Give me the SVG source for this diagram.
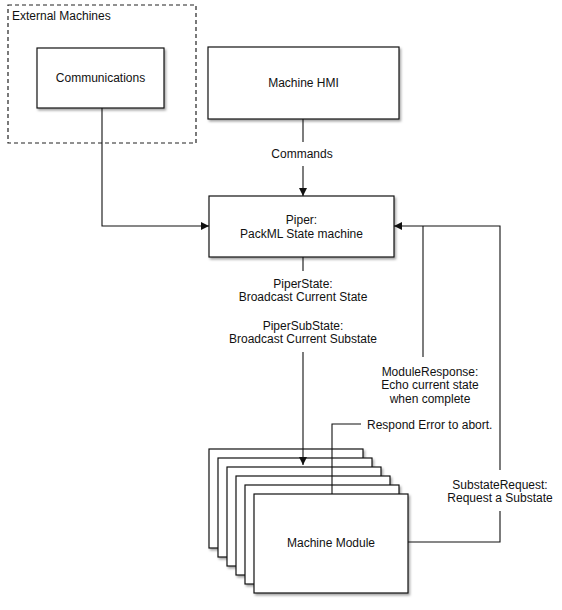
<svg xmlns="http://www.w3.org/2000/svg" width="562" height="610" viewBox="0 0 562 610">
<style>
  text { font-family: "Liberation Sans", Arial, sans-serif; font-size: 12px; fill: #111; }
  .c { text-anchor: middle; }
  .box { fill: #fff; stroke: #111; stroke-width: 1.2; filter: url(#sh); }
  .ln { fill: none; stroke: #111; stroke-width: 1.1; }
</style>
<defs>
  <filter id="sh" x="-10%" y="-10%" width="125%" height="130%">
    <feDropShadow dx="1.5" dy="2" stdDeviation="1" flood-color="#000" flood-opacity="0.35"/>
  </filter>
  <marker id="ah" viewBox="0 0 10 10" refX="10" refY="5" markerWidth="9" markerHeight="8" markerUnits="userSpaceOnUse" orient="auto">
    <path d="M0,0 L10,5 L0,10 z" fill="#111"/>
  </marker>
</defs>
<rect width="562" height="610" fill="#fff"/>

<g id="external-machines">
  <rect x="8" y="5" width="188" height="138" fill="none" stroke="#222" stroke-width="1.2" stroke-dasharray="4,3"/>
  <text x="12" y="20">External Machines</text>
</g>

<g id="communications">
  <rect class="box" x="37" y="48" width="127" height="60"/>
  <text class="c" x="100.5" y="82">Communications</text>
</g>

<g id="machine-hmi">
  <rect class="box" x="208" y="47" width="191" height="72"/>
  <text class="c" x="303.5" y="87">Machine HMI</text>
</g>

<g id="piper">
  <rect class="box" x="209" y="196" width="185" height="61"/>
  <text class="c" x="301.5" y="224">Piper:</text>
  <text class="c" x="301.5" y="238">PackML State machine</text>
</g>

<g id="machine-module">
  <rect class="box" x="209" y="449" width="154" height="99"/>
  <rect class="box" x="218" y="458" width="154" height="99"/>
  <rect class="box" x="227" y="467" width="154" height="99"/>
  <rect class="box" x="236" y="476" width="154" height="99"/>
  <rect class="box" x="245" y="485" width="154" height="99"/>
  <rect class="box" x="254" y="494" width="154" height="99"/>
  <text class="c" x="331" y="547">Machine Module</text>
</g>

<g id="connectors">
  <path class="ln" d="M102,108 V226 H209" marker-end="url(#ah)"/>
  <path class="ln" d="M303,119 V142"/>
  <text class="c" x="302" y="158">Commands</text>
  <path class="ln" d="M303,166 V196" marker-end="url(#ah)"/>

  <path class="ln" d="M303,257 V271"/>
  <text class="c" x="303" y="288">PiperState:</text>
  <text class="c" x="303" y="301">Broadcast Current State</text>
  <text class="c" x="303" y="330">PiperSubState:</text>
  <text class="c" x="303" y="343">Broadcast Current Substate</text>
  <path class="ln" d="M303,352 V465" marker-end="url(#ah)"/>

  <path class="ln" d="M423,357 V226"/>
  <text class="c" x="430" y="376">ModuleResponse:</text>
  <text class="c" x="430" y="389">Echo current state</text>
  <text class="c" x="430" y="403">when complete</text>

  <path class="ln" d="M332,494 V424 H361"/>
  <text x="367" y="429">Respond Error to abort.</text>

  <path class="ln" d="M408,542 H500 V511"/>
  <text class="c" x="500" y="489">SubstateRequest:</text>
  <text class="c" x="500" y="502">Request a Substate</text>
  <path class="ln" d="M500,470 V226 H394" marker-end="url(#ah)"/>
</g>
</svg>
